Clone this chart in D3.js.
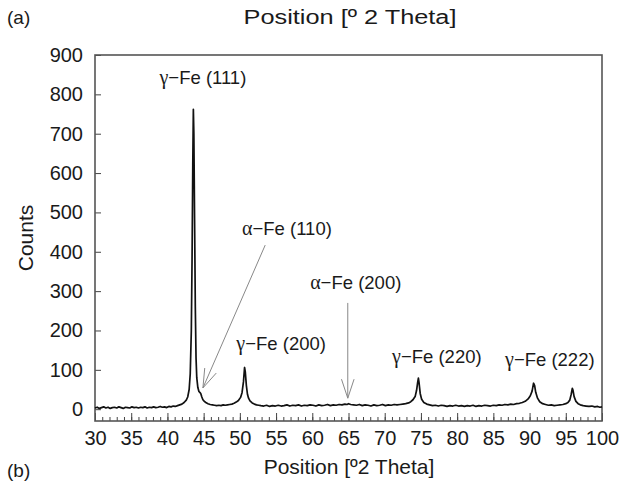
<!DOCTYPE html>
<meta charset="utf-8">
<title>XRD pattern (a)</title>
<style>
body { margin: 0; background: #fff; }
svg { display: block; font-family: "Liberation Sans", Arial, sans-serif; }
.tick text { font-size: 20px; fill: #1a1a1a; }
.tick line { stroke: #444; }
.frame { fill: none; stroke: #555; stroke-width: 1.6; }
.pattern { fill: none; stroke: #111; stroke-width: 1.7; stroke-linejoin: round; }
.note { font-size: 18.5px; fill: #1a1a1a; text-anchor: middle; }
.arrow { stroke: #888; stroke-width: 1; fill: none; }
</style>
<svg width="632" height="486"></svg>
<script src="https://d3js.org/d3.v7.min.js"></script>
<script>
// diffraction pattern: 2theta (deg) and counts
const twoTheta = [
  30.0, 30.3, 30.6, 30.9, 31.2, 31.5, 31.8, 32.1, 32.4, 32.7, 33.0, 33.3, 33.6, 33.9,
  34.2, 34.5, 34.8, 35.1, 35.4, 35.7, 36.0, 36.3, 36.6, 36.9, 37.2, 37.5, 37.8, 38.1,
  38.4, 38.7, 39.0, 39.3, 39.6, 39.9, 40.2, 40.5, 40.8, 41.1, 41.4, 41.7, 42.0, 42.3,
  42.6, 42.8, 43.0, 43.15, 43.3, 43.4, 43.5, 43.58, 43.65, 43.75, 43.85, 43.95, 44.05,
  44.2, 44.35, 44.5, 44.6, 44.75, 44.9, 45.1, 45.3, 45.6, 45.9, 46.2, 46.5, 46.8, 47.1,
  47.4, 47.7, 48.0, 48.3, 48.6, 48.9, 49.2, 49.5, 49.8, 50.1, 50.3, 50.5, 50.65, 50.75,
  50.9, 51.05, 51.2, 51.4, 51.7, 52.0, 52.3, 52.6, 52.9, 53.3, 53.7, 54.1, 54.5, 54.9,
  55.3, 55.7, 56.1, 56.5, 56.9, 57.3, 57.7, 58.1, 58.5, 58.9, 59.3, 59.7, 60.1, 60.5,
  60.9, 61.3, 61.7, 62.1, 62.5, 62.9, 63.3, 63.7, 64.1, 64.5, 64.8, 65.0, 65.3, 65.7,
  66.1, 66.5, 66.9, 67.3, 67.7, 68.1, 68.5, 68.9, 69.3, 69.7, 70.1, 70.5, 70.9, 71.3,
  71.7, 72.1, 72.5, 72.9, 73.3, 73.6, 73.9, 74.2, 74.4, 74.55, 74.65, 74.75, 74.9, 75.1,
  75.4, 75.8, 76.2, 76.6, 77.0, 77.4, 77.8, 78.2, 78.6, 79.0, 79.4, 79.8, 80.2, 80.6,
  81.0, 81.4, 81.8, 82.2, 82.6, 83.0, 83.4, 83.8, 84.2, 84.6, 85.0, 85.4, 85.8, 86.2,
  86.6, 87.0, 87.4, 87.8, 88.2, 88.6, 89.0, 89.4, 89.8, 90.1, 90.35, 90.55, 90.7, 90.85,
  91.1, 91.4, 91.8, 92.2, 92.6, 93.0, 93.4, 93.8, 94.2, 94.6, 95.0, 95.3, 95.55, 95.75,
  95.9, 96.0, 96.15, 96.4, 96.7, 97.0, 97.4, 97.8, 98.2, 98.6, 99.0, 99.4, 99.7, 100.0
];
const counts = [
  3, 5, 2, 4, 6, 3, 5, 2, 4, 5, 3, 6, 4, 2,
  5, 4, 3, 6, 4, 5, 3, 5, 4, 6, 3, 5, 4, 6,
  4, 5, 7, 5, 6, 4, 7, 6, 8, 7, 9, 11, 13, 17,
  23, 31, 50, 90, 200, 380, 620, 762, 700, 480, 260, 130, 80,
  55, 45, 42, 40, 31, 24, 20, 17, 14, 12, 11, 10, 9, 10,
  9, 11, 10, 11, 12, 13, 15, 18, 22, 30, 42, 70, 106, 95,
  60, 38, 28, 21, 16, 13, 11, 10, 9, 8, 10, 7, 9, 8,
  10, 8, 9, 11, 8, 10, 9, 11, 8, 10, 9, 11, 10, 8,
  11, 9, 10, 12, 9, 11, 10, 12, 11, 13, 12, 14, 12, 11,
  10, 12, 9, 11, 10, 8, 11, 9, 10, 12, 9, 11, 10, 12,
  11, 12, 13, 14, 16, 19, 24, 32, 48, 68, 79, 66, 40, 25,
  17, 13, 11, 9, 10, 8, 10, 9, 7, 9, 8, 10, 8, 9,
  7, 9, 8, 10, 7, 9, 8, 10, 9, 8, 10, 9, 11, 10,
  12, 11, 13, 12, 14, 15, 17, 20, 26, 34, 46, 66, 60, 43,
  28, 19, 14, 12, 10, 11, 9, 10, 11, 12, 14, 17, 23, 38,
  53, 48, 32, 20, 14, 11, 9, 8, 7, 8, 6, 7, 5, 6
];

const yTicks = [0, 100, 200, 300, 400, 500, 600, 700, 800, 900];
const xTicks = [30, 35, 40, 45, 50, 55, 60, 65, 70, 75, 80, 85, 90, 95, 100];

// peak labels: text, 2theta, counts (label centre)
const peakLabels = [
  { greek: "\u03b3", rest: "\u2212Fe (111)", at: 44.9, c: 844 },
  { greek: "\u03b1", rest: "\u2212Fe (110)", at: 56.5, c: 458 },
  { greek: "\u03b3", rest: "\u2212Fe (200)", at: 55.7, c: 168 },
  { greek: "\u03b1", rest: "\u2212Fe (200)", at: 66.0, c: 323 },
  { greek: "\u03b3", rest: "\u2212Fe (220)", at: 77.2, c: 133 },
  { greek: "\u03b3", rest: "\u2212Fe (222)", at: 92.8, c: 125 }
];
// arrows: from [2theta, counts] to [2theta, counts]
const arrows = [
  { from: [53.5, 417], to: [44.9, 54] },
  { from: [64.9, 270], to: [64.9, 28] }
];

const svg = d3.select("svg");
const x = d3.scaleLinear().domain([30, 100]).range([95, 602]);
const y = d3.scaleLinear().domain([-30, 900]).range([421, 55]);

// minor ticks every degree
svg.append("g")
  .attr("transform", "translate(0,421)")
  .call(d3.axisBottom(x).tickValues(d3.range(30, 101, 1)).tickSize(-4).tickFormat(""))
  .call(g => g.select(".domain").remove());

svg.append("g")
  .attr("transform", "translate(0,421)")
  .call(d3.axisBottom(x).tickValues(xTicks).tickSize(-8).tickPadding(10).tickFormat(d3.format("d")))
  .call(g => g.select(".domain").remove());

svg.append("g")
  .attr("transform", "translate(95,0)")
  .call(d3.axisLeft(y).tickValues(yTicks).tickSize(-6).tickPadding(12))
  .call(g => g.select(".domain").remove());

svg.append("rect").attr("class", "frame")
  .attr("x", 95).attr("y", 55).attr("width", 507).attr("height", 366);

const line = d3.line().x(d => x(d[0])).y(d => y(d[1]));
svg.append("path").attr("class", "pattern")
  .attr("d", line(d3.zip(twoTheta, counts)));

// arrows with open heads
arrows.forEach(a => {
  const x0 = x(a.from[0]), y0 = y(a.from[1]), x1 = x(a.to[0]), y1 = y(a.to[1]);
  const ang = Math.atan2(y1 - y0, x1 - x0), len = 20, spread = 0.32;
  svg.append("line").attr("class", "arrow")
    .attr("x1", x0).attr("y1", y0).attr("x2", x1).attr("y2", y1);
  [-spread, spread].forEach(s => {
    svg.append("line").attr("class", "arrow")
      .attr("x1", x1).attr("y1", y1)
      .attr("x2", x1 - len * Math.cos(ang + s))
      .attr("y2", y1 - len * Math.sin(ang + s));
  });
});

const notes = svg.selectAll("text.note").data(peakLabels).enter().append("text")
  .attr("class", "note")
  .attr("x", d => x(d.at)).attr("y", d => y(d.c)).attr("dy", "0.35em");
notes.append("tspan").style("font-family", "'Liberation Serif', serif").style("font-size", "20px").text(d => d.greek);
notes.append("tspan").text(d => d.rest);

svg.append("text").attr("x", 26).attr("y", 238)
  .attr("transform", "rotate(-90,26,238)").attr("text-anchor", "middle").attr("dy", "0.35em")
  .style("font-size", "21px").style("fill", "#1a1a1a").text("Counts");

svg.append("text").attr("x", 349).attr("y", 474).attr("text-anchor", "middle")
  .style("font-size", "21px").style("fill", "#1a1a1a").text("Position [\u00ba2 Theta]");

svg.append("text").attr("x", 350).attr("y", 24).attr("text-anchor", "middle")
  .attr("textLength", 213).attr("lengthAdjust", "spacingAndGlyphs")
  .style("font-size", "20px").style("fill", "#1a1a1a").text("Position [\u00ba 2 Theta]");

svg.append("text").attr("x", 7).attr("y", 24).style("font-size", "19px").style("fill", "#1a1a1a").text("(a)");
svg.append("text").attr("x", 7).attr("y", 477).style("font-size", "19px").style("fill", "#1a1a1a").text("(b)");
</script>
